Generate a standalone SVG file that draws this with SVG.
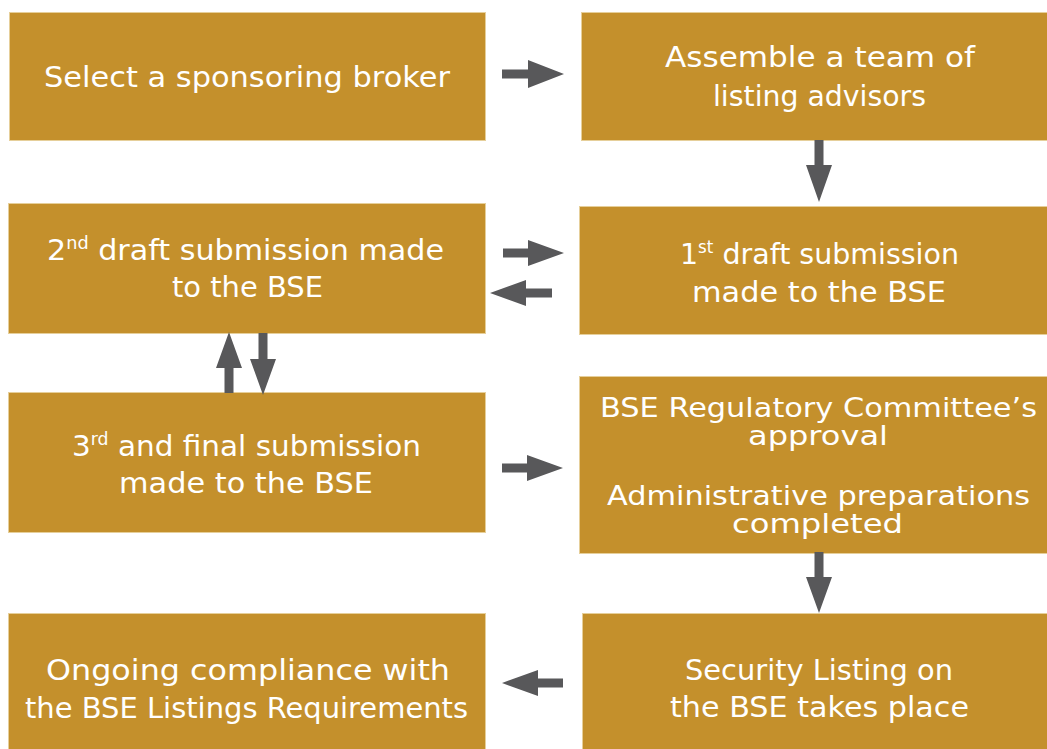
<svg xmlns="http://www.w3.org/2000/svg" width="1047" height="749" viewBox="0 0 1047 749">
<style>
.box{fill:#C4902C;stroke:#E6CF9A;stroke-width:1}
.t{font-family:"DejaVu Sans","Liberation Sans",sans-serif;font-size:29px;fill:#FFFFFF}
.tc{font-size:26px}
.sup{font-size:17px}
.arr{fill:#58585A}
</style>
<rect width="1047" height="749" fill="#FFFFFF"/>
<g id="node-select-broker">
<rect class="box" x="9.5" y="12.5" width="476" height="128"/>
<text class="t" x="44" y="87" textLength="406" lengthAdjust="spacingAndGlyphs">Select a sponsoring broker</text>
</g>
<g id="node-assemble-team">
<rect class="box" x="581.5" y="12.5" width="466" height="128"/>
<text class="t" x="665" y="67" textLength="310" lengthAdjust="spacingAndGlyphs">Assemble a team of</text>
<text class="t" x="713" y="106" textLength="213" lengthAdjust="spacingAndGlyphs">listing advisors</text>
</g>
<g id="node-second-draft">
<rect class="box" x="8.5" y="203.5" width="477" height="130"/>
<text class="t" x="47" y="260" textLength="397" lengthAdjust="spacingAndGlyphs">2<tspan class="sup" dy="-11">nd</tspan><tspan dy="11"> draft submission made</tspan></text>
<text class="t" x="172" y="297" textLength="151" lengthAdjust="spacingAndGlyphs">to the BSE</text>
</g>
<g id="node-first-draft">
<rect class="box" x="579.5" y="206.5" width="468" height="128"/>
<text class="t" x="680" y="264" textLength="279" lengthAdjust="spacingAndGlyphs">1<tspan class="sup" dy="-11">st</tspan><tspan dy="11"> draft submission</tspan></text>
<text class="t" x="692" y="302" textLength="254" lengthAdjust="spacingAndGlyphs">made to the BSE</text>
</g>
<g id="node-third-submission">
<rect class="box" x="8.5" y="392.5" width="477" height="140"/>
<text class="t" x="72" y="456" textLength="349" lengthAdjust="spacingAndGlyphs">3<tspan class="sup" dy="-11">rd</tspan><tspan dy="11"> and final submission</tspan></text>
<text class="t" x="119" y="493" textLength="254" lengthAdjust="spacingAndGlyphs">made to the BSE</text>
</g>
<g id="node-approval">
<rect class="box" x="579.5" y="376.5" width="468" height="177"/>
<text class="t tc" x="600" y="417" textLength="437" lengthAdjust="spacingAndGlyphs">BSE Regulatory Committee’s</text>
<text class="t tc" x="748" y="445" textLength="140" lengthAdjust="spacingAndGlyphs">approval</text>
<text class="t tc" x="607" y="505" textLength="423" lengthAdjust="spacingAndGlyphs">Administrative preparations</text>
<text class="t tc" x="732" y="533" textLength="171" lengthAdjust="spacingAndGlyphs">completed</text>
</g>
<g id="node-ongoing-compliance">
<rect class="box" x="8.5" y="613.5" width="477" height="140"/>
<text class="t" x="46" y="680" textLength="404" lengthAdjust="spacingAndGlyphs">Ongoing compliance with</text>
<text class="t" x="25" y="718" textLength="443" lengthAdjust="spacingAndGlyphs">the BSE Listings Requirements</text>
</g>
<g id="node-security-listing">
<rect class="box" x="582.5" y="613.5" width="465" height="140"/>
<text class="t" x="685" y="680" textLength="268" lengthAdjust="spacingAndGlyphs">Security Listing on</text>
<text class="t" x="670" y="717" textLength="299" lengthAdjust="spacingAndGlyphs">the BSE takes place</text>
</g>
<g id="connectors">
<polygon class="arr" points="502,69.5 528,69.5 528,60 564,74 528,88 528,78.5 502,78.5"/>
<polygon class="arr" points="814.5,140 823.5,140 823.5,165 832,165 819,202 806,165 814.5,165"/>
<polygon class="arr" points="503,248.5 528,248.5 528,240 564,253 528,266 528,257.5 503,257.5"/>
<polygon class="arr" points="552,288.5 526,288.5 526,280 490,293 526,306 526,297.5 552,297.5"/>
<polygon class="arr" points="224.5,393 233.5,393 233.5,368 242,368 229,332 216,368 224.5,368"/>
<polygon class="arr" points="258.5,333 267.5,333 267.5,359 276,359 263,395 250,359 258.5,359"/>
<polygon class="arr" points="502,463.5 527,463.5 527,455 563,468 527,481 527,472.5 502,472.5"/>
<polygon class="arr" points="814.5,552 823.5,552 823.5,577 832,577 819,613 806,577 814.5,577"/>
<polygon class="arr" points="563,678.5 538,678.5 538,670 502,683 538,696 538,687.5 563,687.5"/>
</g>
</svg>
